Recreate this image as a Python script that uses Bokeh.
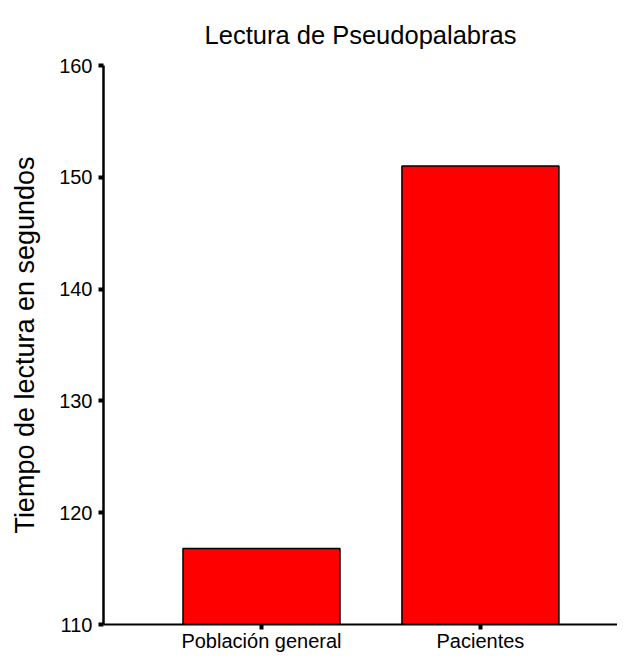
from bokeh.plotting import figure
from bokeh.models import Range1d, FixedTicker, ColumnDataSource
from bokeh.embed import file_html
from bokeh.resources import INLINE

# Data
title_text = "Lectura de Pseudopalabras"
y_label = "Tiempo de lectura en segundos"
categories = ["Población general", "Pacientes"]
values = [116.8, 151.0]
y_ticks = [110, 120, 130, 140, 150, 160]

positions = [i + 1 for i in range(len(categories))]
bottom = y_ticks[0]

source = ColumnDataSource(data=dict(x=positions, top=values, bottom=[bottom] * len(values)))

FONT = "Liberation Sans"

p = figure(width=617, height=654, output_backend="svg", toolbar_location=None,
           x_range=Range1d(0.2785, 2.626), y_range=Range1d(y_ticks[0], y_ticks[-1]),
           min_border_left=103, min_border_right=0, min_border_top=65, min_border_bottom=20)

p.vbar(x="x", top="top", bottom="bottom", width=0.717, source=source,
       fill_color="#FF0000", line_color="black", line_width=1.5)

p.title.text = title_text
p.title.text_font = FONT
p.title.text_font_size = "25.5px"
p.title.text_font_style = "normal"
p.title.align = "center"
p.title.text_color = "black"
p.title.standoff = 34

p.outline_line_color = None
p.grid.visible = False
p.background_fill_color = "white"
p.border_fill_color = "white"

# Y axis
p.yaxis.ticker = FixedTicker(ticks=y_ticks)
p.yaxis.axis_label = y_label
p.yaxis.axis_label_text_font = FONT
p.yaxis.axis_label_text_font_size = "27px"
p.yaxis.axis_label_text_font_style = "normal"
p.yaxis.axis_label_text_color = "black"
p.yaxis.axis_label_standoff = 16
p.yaxis.major_label_text_font = FONT
p.yaxis.major_label_text_font_size = "20px"
p.yaxis.major_label_text_color = "black"
p.yaxis.major_label_standoff = 6
p.yaxis.axis_line_width = 2.5
p.yaxis.axis_line_color = "black"
p.yaxis.major_tick_in = 0
p.yaxis.major_tick_out = 5
p.yaxis.major_tick_line_width = 4
p.yaxis.major_tick_line_color = "black"
p.yaxis.minor_tick_line_color = None

# X axis
p.xaxis.ticker = FixedTicker(ticks=positions)
p.xaxis.major_label_overrides = {pos: cat for pos, cat in zip(positions, categories)}
p.xaxis.major_label_text_font = FONT
p.xaxis.major_label_text_font_size = "20px"
p.xaxis.major_label_text_color = "black"
p.xaxis.major_label_standoff = 0
p.xaxis.axis_line_width = 2
p.xaxis.axis_line_color = "black"
p.xaxis.major_tick_in = 0
p.xaxis.major_tick_out = 5
p.xaxis.major_tick_line_width = 4
p.xaxis.major_tick_line_color = "black"
p.xaxis.minor_tick_line_color = None

open("out.html", "w").write(file_html(p, INLINE))
